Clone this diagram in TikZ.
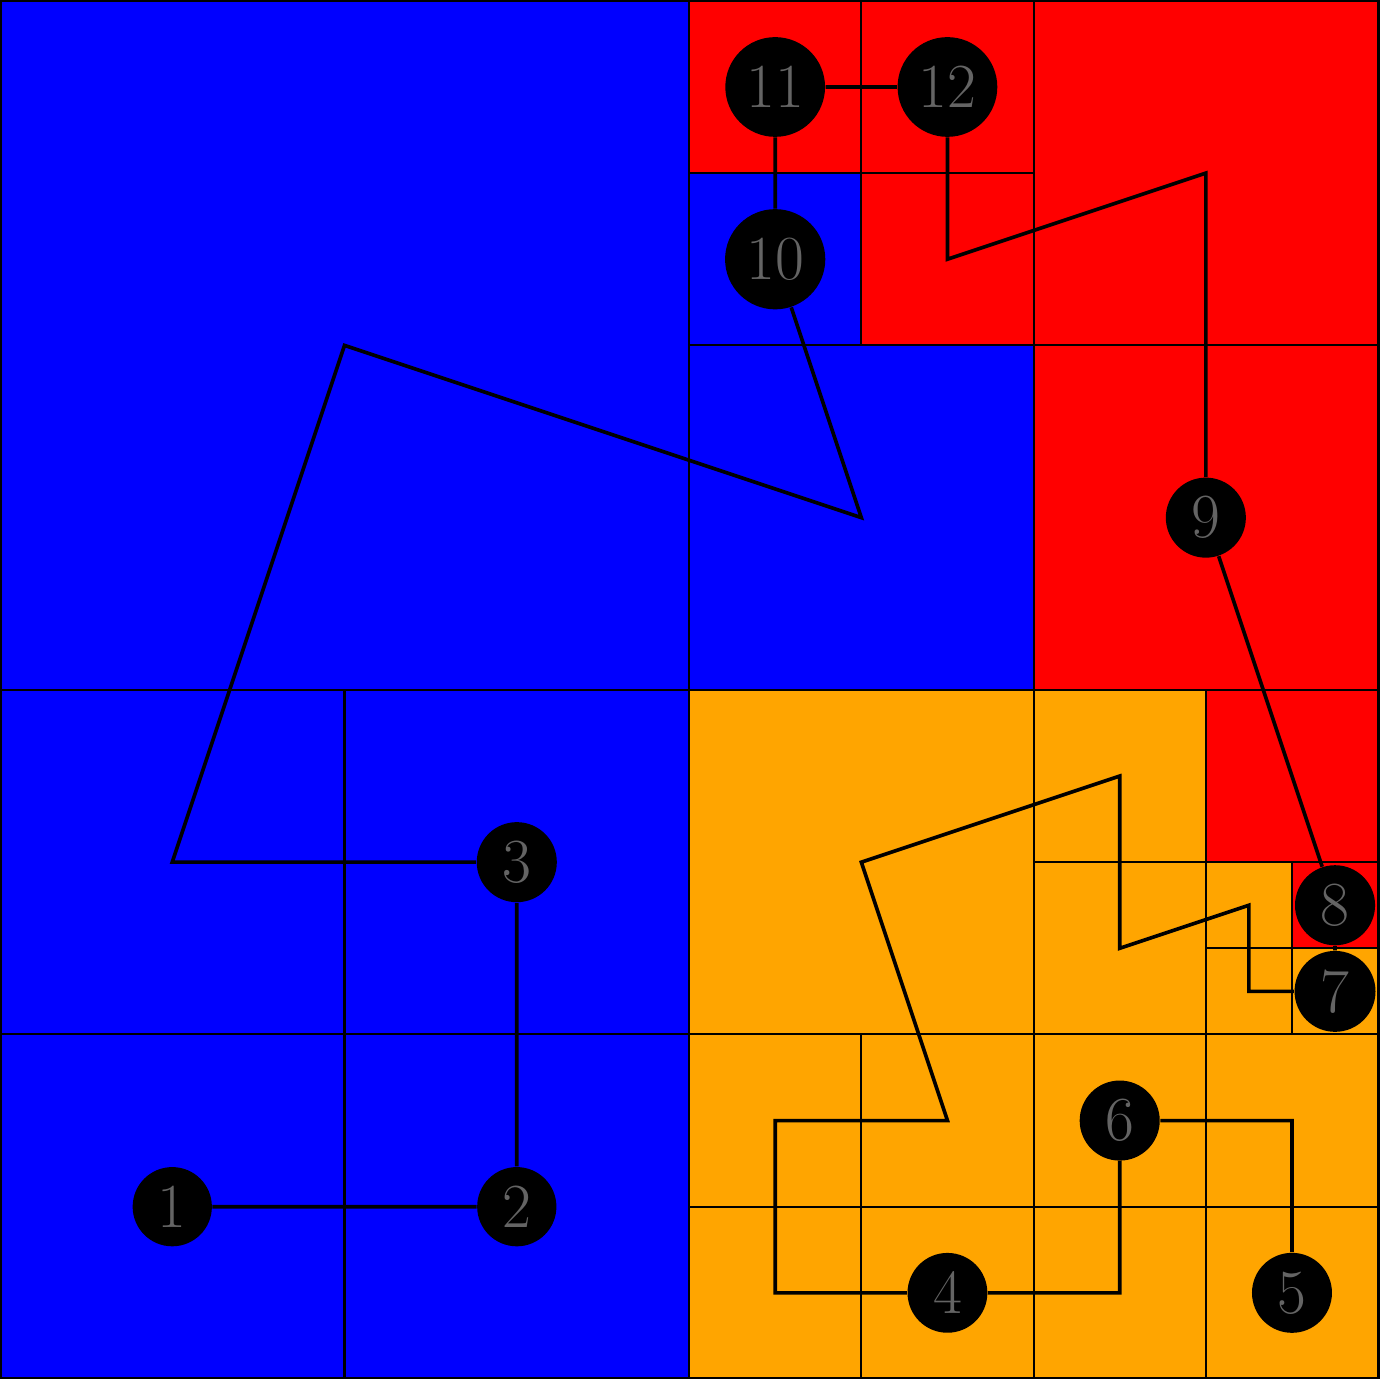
\documentclass[tikz,border=0pt]{standalone}
\definecolor{qblue}{RGB}{0,0,255}
\definecolor{qred}{RGB}{255,0,0}
\definecolor{qorange}{RGB}{255,165,0}
\definecolor{qtext}{RGB}{100,100,100}
\begin{document}
\begin{tikzpicture}[
  cell/.style={draw=black,line width=0.7pt},
  bcell/.style={cell,fill=qblue},
  rcell/.style={cell,fill=qred},
  ocell/.style={cell,fill=qorange},
  curve/.style={draw=black,line width=1.2pt,line join=miter},
  pt/.style={circle,fill=black,text=qtext,font=\huge,inner sep=0.12cm,minimum size=0.92cm}
]
\useasboundingbox (0,0) rectangle (16.15,16.01);
% blue cells
\path[bcell] (0,8) rectangle (8,16);
\path[bcell] (0,4) rectangle (4,8);
\path[bcell] (4,4) rectangle (8,8);
\path[bcell] (0,0) rectangle (4,4);
\path[bcell] (4,0) rectangle (8,4);
\path[bcell] (8,12) rectangle (10,14);
\path[bcell] (8,8) rectangle (12,12);
% red cells
\path[rcell] (8,14) rectangle (10,16);
\path[rcell] (10,14) rectangle (12,16);
\path[rcell] (10,12) rectangle (12,14);
\path[rcell] (12,12) rectangle (16,16);
\path[rcell] (12,8) rectangle (16,12);
\path[rcell] (14,6) rectangle (16,8);
\path[rcell] (15,5) rectangle (16,6);
% orange cells
\path[ocell] (8,4) rectangle (12,8);
\path[ocell] (12,6) rectangle (14,8);
\path[ocell] (12,4) rectangle (14,6);
\path[ocell] (14,5) rectangle (15,6);
\path[ocell] (14,4) rectangle (15,5);
\path[ocell] (15,4) rectangle (16,5);
\path[ocell] (8,0) rectangle (10,2);
\path[ocell] (10,0) rectangle (12,2);
\path[ocell] (8,2) rectangle (10,4);
\path[ocell] (10,2) rectangle (12,4);
\path[ocell] (12,0) rectangle (14,2);
\path[ocell] (14,0) rectangle (16,2);
\path[ocell] (12,2) rectangle (14,4);
\path[ocell] (14,2) rectangle (16,4);
\draw[line width=1pt] (0,0) rectangle (16,16);
% nodes
\node[pt] (n1) at (2,2) {1};
\node[pt] (n2) at (6,2) {2};
\node[pt] (n3) at (6,6) {3};
\node[pt] (n4) at (11,1) {4};
\node[pt] (n5) at (15,1) {5};
\node[pt] (n6) at (13,3) {6};
\node[pt] (n7) at (15.5,4.5) {7};
\node[pt] (n8) at (15.5,5.5) {8};
\node[pt] (n9) at (14,10) {9};
\node[pt] (n10) at (9,13) {10};
\node[pt] (n11) at (9,15) {11};
\node[pt] (n12) at (11,15) {12};
% corner coordinates
\coordinate (a1) at (2,6);
\coordinate (a2) at (4,12);
\coordinate (a3) at (10,10);
\coordinate (b1) at (11,13);
\coordinate (b2) at (14,14);
\coordinate (c1) at (14.5,4.5);
\coordinate (c2) at (14.5,5.5);
\coordinate (c3) at (13,5);
\coordinate (c4) at (13,7);
\coordinate (c5) at (10,6);
\coordinate (c6) at (11,3);
\coordinate (c7) at (9,3);
\coordinate (c8) at (9,1);
\coordinate (d1) at (13,1);
\coordinate (d2) at (15,3);
% curve
\draw[curve] (n1) -- (n2) -- (n3) -- (a1) -- (a2) -- (a3) -- (n10) -- (n11) -- (n12)
  -- (b1) -- (b2) -- (n9) -- (n8) -- (n7) -- (c1) -- (c2) -- (c3) -- (c4) -- (c5)
  -- (c6) -- (c7) -- (c8) -- (n4) -- (d1) -- (n6) -- (d2) -- (n5);
\end{tikzpicture}
\end{document}
